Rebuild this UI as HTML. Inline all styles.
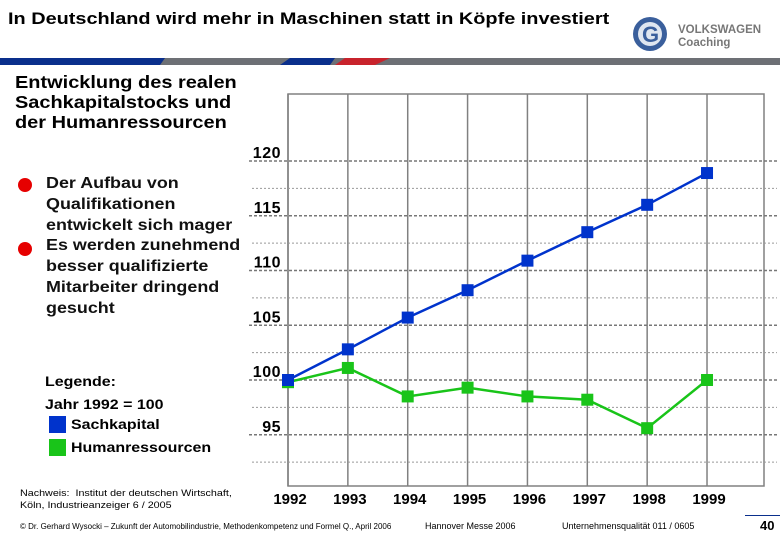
<!DOCTYPE html>
<html><head><meta charset="utf-8"><style>
body{margin:0;width:780px;height:540px;background:#fff;overflow:hidden;position:relative;font-family:"Liberation Sans",sans-serif}
.a{position:absolute;white-space:nowrap;transform-origin:0 0}
</style></head><body>
<div class="a" style="left:8px;top:9px;font-size:17px;font-weight:bold;color:#000;transform:scaleX(1.17)">In Deutschland wird mehr in Maschinen statt in Köpfe investiert</div>
<svg class="a" style="left:630px;top:14px" width="150" height="40">
<circle cx="20" cy="20" r="17" fill="#3a5f9c"/><circle cx="20" cy="20" r="12" fill="#dfe6f0"/><text x="12" y="28" font-size="22" font-weight="bold" fill="#3a5f9c" font-family="Liberation Sans">G</text>
<text x="48" y="19" font-size="11.5" font-weight="bold" fill="#777" font-family="Liberation Sans">VOLKSWAGEN</text>
<text x="48" y="32" font-size="11.5" font-weight="bold" fill="#777" font-family="Liberation Sans">Coaching</text></svg>
<svg class="a" style="left:0;top:58px" width="780" height="8">
<rect x="0" y="0" width="780" height="7" fill="#6d7075"/>
<polygon points="0,0 165,0 160,7 0,7" fill="#0a2f8c"/>
<polygon points="290,0 335,0 330,7 280,7" fill="#0a2f8c"/>
<polygon points="345,0 390,0 375,7 335,7" fill="#c8232c"/></svg>
<div class="a" style="left:15px;top:72px;font-size:17.5px;font-weight:bold;line-height:20px;transform:scaleX(1.14)">Entwicklung des realen<br>Sachkapitalstocks und<br>der Humanressourcen</div>
<div class="a" style="left:18px;top:178px;width:14px;height:14px;border-radius:50%;background:#e60000"></div>
<div class="a" style="left:18px;top:242px;width:14px;height:14px;border-radius:50%;background:#e60000"></div>
<div class="a" style="left:46px;top:174px;font-size:16px;font-weight:bold;line-height:20.8px;color:#111;transform:scaleX(1.12)">Der Aufbau von<br>Qualifikationen<br>entwickelt sich mager<br>Es werden zunehmend<br>besser qualifizierte<br>Mitarbeiter dringend<br>gesucht</div>
<div class="a" style="left:45px;top:370px;font-size:14px;font-weight:bold;line-height:23px;transform:scaleX(1.14)">Legende:<br>Jahr 1992 = 100</div>
<div class="a" style="left:49px;top:416px;width:17px;height:17px;background:#0033cc"></div>
<div class="a" style="left:49px;top:439px;width:17px;height:17px;background:#19c419"></div>
<div class="a" style="left:71px;top:416px;font-size:14px;font-weight:bold;transform:scaleX(1.14)">Sachkapital</div>
<div class="a" style="left:71px;top:439px;font-size:14px;font-weight:bold;transform:scaleX(1.14)">Humanressourcen</div>
<div class="a" style="left:20px;top:488px;font-size:9.5px;line-height:12px;transform:scaleX(1.13)">Nachweis:&nbsp; Institut der deutschen Wirtschaft,<br>Köln, Industrieanzeiger 6 / 2005</div>
<div class="a" style="left:20px;top:522px;font-size:8px">© Dr. Gerhard Wysocki – Zukunft der Automobilindustrie, Methodenkompetenz und Formel Q., April 2006</div>
<div class="a" style="left:425px;top:521px;font-size:9px">Hannover Messe 2006</div>
<div class="a" style="left:562px;top:521px;font-size:9px">Unternehmensqualität 011 / 0605</div>
<div class="a" style="left:760px;top:518px;font-size:13px;font-weight:bold">40</div>
<div class="a" style="left:745px;top:515px;width:35px;height:1px;background:#0a2f8c"></div>
<svg class="a" id="chart" style="left:0;top:0" width="780" height="540"></svg>
<script>
const years=["1992","1993","1994","1995","1996","1997","1998","1999"];
const sachkapital=[100,102.8,105.7,108.2,110.9,113.5,116.0,118.9];
const human=[99.8,101.1,98.5,99.3,98.5,98.2,95.6,100];
const yTicks=[95,100,105,110,115,120];
const minorTicks=[92.5,97.5,102.5,107.5,112.5,117.5];
const svg=document.getElementById('chart');
const NS='http://www.w3.org/2000/svg';
const x=i=>288+i*59.86;
const y=v=>380-(v-100)*10.95;
function mk(t,a){const e=document.createElementNS(NS,t);for(const k in a)e.setAttribute(k,a[k]);svg.appendChild(e);return e;}
let e=mk('rect',{x:288,y:94,width:476,height:392,fill:'none',stroke:'#808080','stroke-width':1.5});


years.forEach((yr,i)=>{
 let g=mk('line',{x1:x(i),x2:x(i),y1:94,y2:486,stroke:'#808080','stroke-width':1.5});
 
 
 let t=mk('text',{x:x(i)+2,y:504,'font-size':15,'font-weight':'bold','text-anchor':'middle','font-family':'Liberation Sans'});
 t.textContent=yr;
 
 
});
minorTicks.forEach(v=>{
 let g=mk('line',{x1:252,x2:777,y1:y(v),y2:y(v),stroke:'#999','stroke-width':1,'stroke-dasharray':'2,2'});
 
 
});
yTicks.forEach(v=>{
 let g=mk('line',{x1:249,x2:778,y1:y(v),y2:y(v),stroke:'#777','stroke-width':1.5,'stroke-dasharray':'3,2'});
 
 
 let t=mk('text',{x:281,y:y(v)-3,'font-size':16,'font-weight':'bold','text-anchor':'end','font-family':'Liberation Sans','letter-spacing':'0.5'});
 t.textContent=v;
 
 
});
function series(vals,col,name){
 let p=mk('polyline',{points:vals.map((v,i)=>x(i)+','+y(v)).join(' '),fill:'none',stroke:col,'stroke-width':2.5});
 
 
 vals.forEach((v,i)=>{
  let r=mk('rect',{x:x(i)-6,y:y(v)-6,width:12,height:12,fill:col});
  
  
 });
}
series(human,'#19c419','human');
series(sachkapital,'#0033cc','sachkapital');
</script>
</body></html>
